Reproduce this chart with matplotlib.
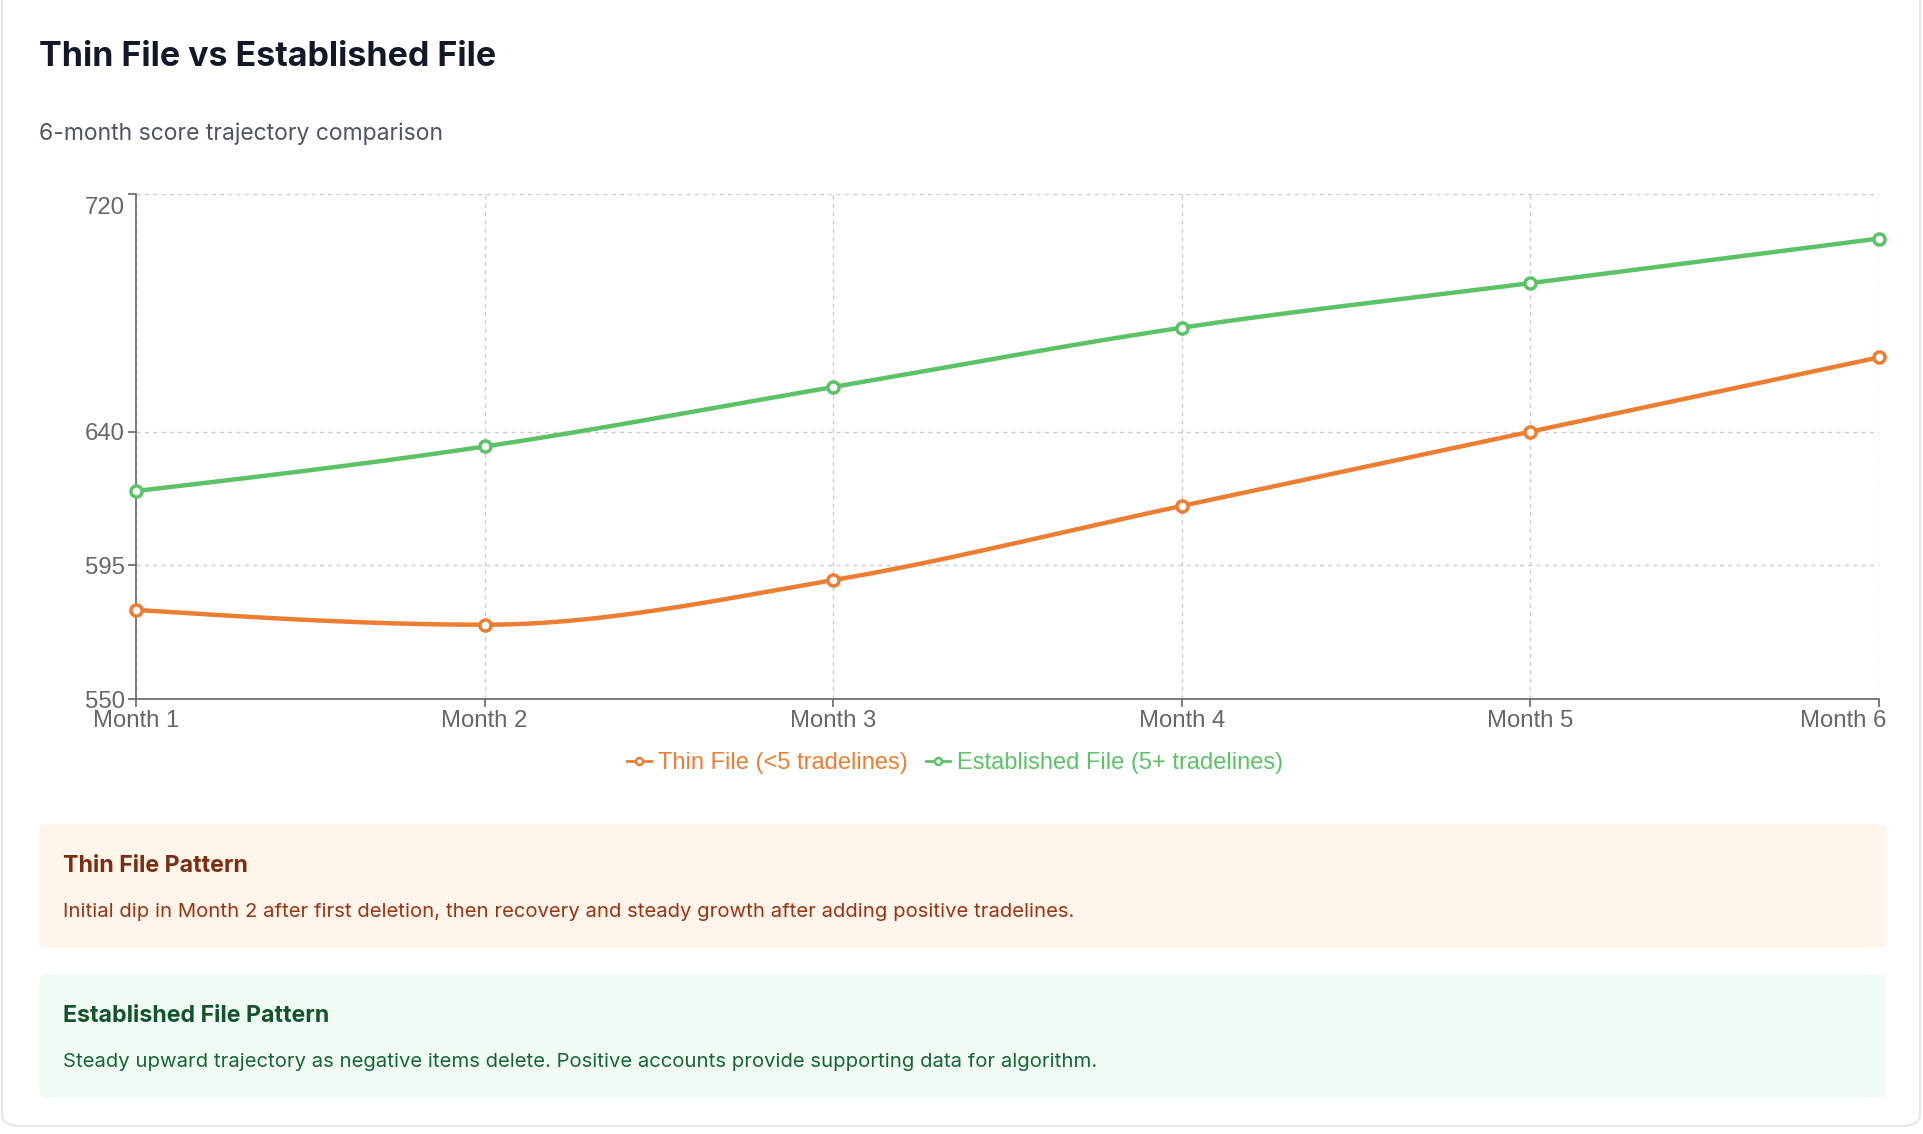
import numpy as np
import matplotlib.pyplot as plt
import matplotlib.transforms as mtransforms
from matplotlib.patches import FancyBboxPatch
from matplotlib.lines import Line2D

months = ["Month 1", "Month 2", "Month 3", "Month 4", "Month 5", "Month 6"]
thin = [580, 575, 590, 615, 640, 665]
established = [620, 635, 655, 675, 690, 705]
y_ticks = [550, 595, 640, 720]

ORANGE = "#ed7d31"
GREEN = "#5bc266"


def monotone(x, y, n=40):
    # monotone cubic curve between points (like d3 curveMonotoneX)
    x = np.asarray(x, float)
    y = np.asarray(y, float)
    h = np.diff(x)
    s = np.diff(y) / h
    t = np.zeros(len(x))
    for i in range(1, len(x) - 1):
        p = (s[i - 1] * h[i] + s[i] * h[i - 1]) / (h[i - 1] + h[i])
        t[i] = (np.sign(s[i - 1]) + np.sign(s[i])) * min(abs(s[i - 1]), abs(s[i]), 0.5 * abs(p))
    t[0] = (3 * s[0] - t[1]) / 2
    t[-1] = (3 * s[-1] - t[-2]) / 2
    xs, ys = [], []
    for i in range(len(x) - 1):
        u = np.linspace(0, 1, n)
        h00 = 2 * u**3 - 3 * u**2 + 1
        h10 = u**3 - 2 * u**2 + u
        h01 = -2 * u**3 + 3 * u**2
        h11 = u**3 - u**2
        xs.append(x[i] + u * h[i])
        ys.append(h00 * y[i] + h10 * h[i] * t[i] + h01 * y[i + 1] + h11 * h[i] * t[i + 1])
    return np.concatenate(xs), np.concatenate(ys)


fig = plt.figure(figsize=(19.24, 11.34), dpi=100)
fig.patch.set_facecolor("white")

# card outline
card = FancyBboxPatch((2 / 1924, 8 / 1134), 1918 / 1924, 1140 / 1134,
                      boxstyle="round,pad=0,rounding_size=0.01",
                      transform=fig.transFigure, facecolor="white",
                      edgecolor="#e5e7eb", linewidth=1.5, zorder=-5)
fig.patches.append(card)

fig.text(39 / 1924, 1 - 57 / 1134, "Thin File vs Established File", fontsize=24.5,
         fontweight="bold", color="#111827", family="Inter", va="center")
fig.text(39 / 1924, 1 - 134 / 1134, "6-month score trajectory comparison", fontsize=16.5,
         color="#4b5563", family="Inter", va="center")

ax = fig.add_axes([136 / 1924, 435 / 1134, (1879 - 136) / 1924, (699 - 194) / 1134])
ax.set_facecolor("none")
x = np.arange(len(months))

for vals, col in [(thin, ORANGE), (established, GREEN)]:
    cx, cy = monotone(x, vals)
    ax.plot(cx, cy, color=col, lw=3.2, solid_capstyle="round", clip_on=False, zorder=3)
    ax.plot(x, vals, "o", ms=8, mfc="white", mec=col, mew=2.5, clip_on=False, zorder=4)

ax.set_xlim(0, 5)
ax.set_ylim(550, 720)
ax.set_xticks(x)
ax.set_xticklabels(months)
ax.set_yticks(y_ticks)
ax.grid(True, color="#cccccc", linestyle=(0, (3, 3)), linewidth=1)
ax.set_axisbelow(True)
for sp in ["top", "right"]:
    ax.spines[sp].set_visible(False)
for sp in ["left", "bottom"]:
    ax.spines[sp].set_color("#666666")
    ax.spines[sp].set_linewidth(1.2)
ax.tick_params(colors="#666666", labelsize=17.2, length=6, width=1.2, pad=2)
for lab in ax.get_xticklabels() + ax.get_yticklabels():
    lab.set_family("Liberation Sans")
    lab.set_color("#666666")

# last x label kept inside the card, top y label sits a little below its tick
PAD = 8
last_x = ax.get_xticklabels()[-1]
last_x.set_ha("right")
last_x.set_transform(ax.get_xaxis_text1_transform(PAD)[0]
                     + mtransforms.ScaledTranslation(7 / 100, 0, fig.dpi_scale_trans))
top_y = ax.get_yticklabels()[-1]
top_y.set_transform(ax.get_yaxis_text1_transform(PAD)[0]
                    + mtransforms.ScaledTranslation(0, -12 / 100, fig.dpi_scale_trans))

handles = [Line2D([0], [0], color=c, lw=2, marker="o", ms=5, mfc="white", mec=c, mew=1.8)
           for c in (ORANGE, GREEN)]
leg = fig.legend(handles, ["Thin File (<5 tradelines)", "Established File (5+ tradelines)"],
                 loc="center", bbox_to_anchor=(955 / 1924, 1 - 763 / 1134), ncol=2,
                 frameon=False, handlelength=1.0, handletextpad=0.3,
                 columnspacing=0.8, prop={"family": "Liberation Sans", "size": 17})
for txt, c in zip(leg.get_texts(), (ORANGE, GREEN)):
    txt.set_color(c)

boxes = [
    (824, 948, "#fff5eb", "Thin File Pattern", "#7c2d12",
     "Initial dip in Month 2 after first deletion, then recovery and steady growth after adding positive tradelines.",
     "#9a3412"),
    (974, 1098, "#f0fcf3", "Established File Pattern", "#14532d",
     "Steady upward trajectory as negative items delete. Positive accounts provide supporting data for algorithm.",
     "#166534"),
]
for top, bot, bg, title, tc, body, bc in boxes:
    box = FancyBboxPatch((39 / 1924, 1 - bot / 1134), (1886 - 39) / 1924, (bot - top) / 1134,
                         boxstyle="round,pad=0,rounding_size=0.006",
                         transform=fig.transFigure, facecolor=bg, edgecolor="none", zorder=1)
    fig.patches.append(box)
    fig.text(63 / 1924, 1 - (top + 42) / 1134, title, fontsize=16.7, fontweight="bold",
             color=tc, family="Inter", va="center")
    fig.text(63 / 1924, 1 - (top + 88) / 1134, body, fontsize=14.6,
             color=bc, family="Inter", va="center")

fig.savefig("out.png", dpi=100, facecolor="white")
